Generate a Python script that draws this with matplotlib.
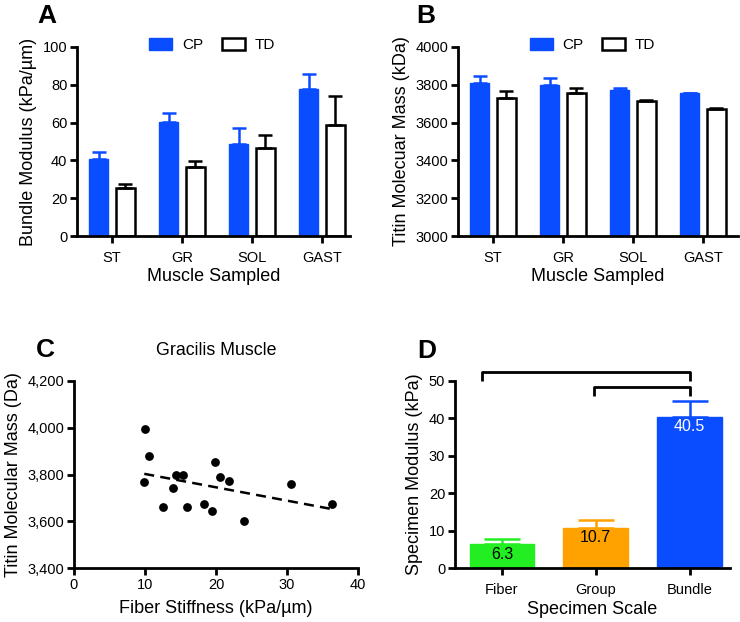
import matplotlib
matplotlib.use("Agg")
import matplotlib.pyplot as plt
import numpy as np
from matplotlib.patches import Patch

plt.rcParams['font.family'] = ['Liberation Sans', 'DejaVu Sans']

# ---- data ----
muscles = ["ST", "GR", "SOL", "GAST"]
a_cp = [41.0, 60.5, 48.5, 78.0]
a_cp_err = [3.5, 4.5, 8.5, 7.5]
a_td = [25.5, 36.5, 46.5, 58.5]
a_td_err = [2.2, 3.0, 7.0, 15.5]

b_cp = [3808, 3798, 3775, 3754]
b_cp_err = [40, 36, 6, 4]
b_td = [3729, 3759, 3712, 3673]
b_td_err = [40, 23, 10, 5]

c_x = [10.0, 10.6, 9.9, 14.3, 15.3, 14.0, 12.5, 15.9, 19.8, 20.6, 21.8, 18.3, 19.5, 24.0, 30.6, 36.4]
c_y = [3994, 3881, 3767, 3799, 3796, 3742, 3663, 3660, 3855, 3791, 3773, 3675, 3643, 3602, 3759, 3675]

scales = ["Fiber", "Group", "Bundle"]
d_vals = [6.3, 10.7, 40.5]
d_err = [1.4, 2.2, 4.1]
d_labels = ["6.3", "10.7", "40.5"]

BLUE = '#0a4cff'
GREEN = '#22ee22'
ORANGE = '#ffa200'

fig = plt.figure(figsize=(7.4, 6.22), dpi=100)
W, H = 740, 622

def add_ax(l, r, t, b):
    return fig.add_axes([l / W, 1 - b / H, (r - l) / W, (b - t) / H])

LW = 2.0
TICKFS = 10.5
LABFS = 13

def style(ax):
    for s in ['top', 'right']:
        ax.spines[s].set_visible(False)
    for s in ['left', 'bottom']:
        ax.spines[s].set_linewidth(LW)
    ax.tick_params(width=LW, length=5, labelsize=TICKFS, direction='out', pad=2)

handles = [Patch(facecolor=BLUE, edgecolor=BLUE),
           Patch(facecolor='white', edgecolor='black', linewidth=1.8)]
leg_kw = dict(ncol=2, frameon=False, fontsize=11, loc='center', handlelength=1.5,
              handleheight=0.9, columnspacing=1.2, handletextpad=0.65)

# ---- Panel A ----
axA = add_ax(77, 350, 47, 236)
style(axA)
x = np.arange(len(muscles))
bw = 0.27
off = 0.19
axA.bar(x - off, a_cp, bw, color=BLUE, edgecolor=BLUE, linewidth=1)
axA.errorbar(x - off, a_cp, yerr=[np.zeros(4), a_cp_err], fmt='none', ecolor=BLUE,
             elinewidth=1.8, capsize=5, capthick=1.8)
axA.bar(x + off, a_td, bw, color='white', edgecolor='black', linewidth=1.8)
axA.errorbar(x + off, a_td, yerr=[np.zeros(4), a_td_err], fmt='none', ecolor='black',
             elinewidth=1.8, capsize=5, capthick=1.8)
axA.set_xlim(-0.5, 3.4)
axA.set_ylim(0, 100)
axA.set_yticks([0, 20, 40, 60, 80, 100])
axA.set_xticks(x)
axA.set_xticklabels(muscles)
axA.tick_params(axis='x', pad=6)
axA.set_ylabel("Bundle Modulus (kPa/µm)", fontsize=LABFS, labelpad=4)
axA.set_xlabel("Muscle Sampled", fontsize=LABFS, labelpad=2)
axA.legend(handles, ["CP", "TD"], bbox_to_anchor=(0.495, 1.01), **leg_kw)
fig.text(37 / W, 1 - 16 / H, "A", fontsize=19, fontweight='bold', va='center', ha='left')

# ---- Panel B ----
axB = add_ax(458, 738, 47, 236)
style(axB)
axB.bar(x - off, b_cp, bw, color=BLUE, edgecolor=BLUE, linewidth=1)
axB.errorbar(x - off, b_cp, yerr=[np.zeros(4), b_cp_err], fmt='none', ecolor=BLUE,
             elinewidth=1.8, capsize=5, capthick=1.8)
axB.bar(x + off, b_td, bw, color='white', edgecolor='black', linewidth=1.8)
axB.errorbar(x + off, b_td, yerr=[np.zeros(4), b_td_err], fmt='none', ecolor='black',
             elinewidth=1.8, capsize=5, capthick=1.8)
axB.set_xlim(-0.5, 3.5)
axB.set_ylim(3000, 4000)
axB.set_yticks([3000, 3200, 3400, 3600, 3800, 4000])
axB.set_xticks(x)
axB.set_xticklabels(muscles)
axB.tick_params(axis='x', pad=6)
axB.set_ylabel("Titin Molecuar Mass (kDa)", fontsize=LABFS, labelpad=4)
axB.set_xlabel("Muscle Sampled", fontsize=LABFS, labelpad=2)
axB.legend(handles, ["CP", "TD"], bbox_to_anchor=(0.48, 1.01), **leg_kw)
fig.text(416 / W, 1 - 16 / H, "B", fontsize=19, fontweight='bold', va='center', ha='left')

# ---- Panel C ----
axC = add_ax(74, 358, 381, 568)
style(axC)
axC.scatter(c_x, c_y, s=40, color='black', zorder=3, linewidths=0)
coef = np.polyfit(c_x, c_y, 1)
fx = np.array([min(c_x), max(c_x)])
axC.plot(fx, np.polyval(coef, fx), '--', color='black', linewidth=1.8, dashes=(4, 2.5))
axC.set_xlim(0, 40)
axC.set_ylim(3400, 4200)
axC.set_xticks([0, 10, 20, 30, 40])
axC.set_yticks([3400, 3600, 3800, 4000, 4200])
axC.set_yticklabels([f"{v:,}" for v in [3400, 3600, 3800, 4000, 4200]])
axC.set_ylabel("Titin Molecular Mass (Da)", fontsize=LABFS, labelpad=4)
axC.set_xlabel("Fiber Stiffness (kPa/µm)", fontsize=LABFS, labelpad=6)
axC.set_title("Gracilis Muscle", fontsize=12.8, pad=19)
fig.text(36 / W, 1 - 350 / H, "C", fontsize=19, fontweight='bold', va='center', ha='left')

# ---- Panel D ----
axD = add_ax(455, 730, 381, 568)
style(axD)
xd = np.arange(len(scales))
colors = [GREEN, ORANGE, BLUE]
axD.bar(xd, d_vals, 0.69, color=colors, edgecolor=colors, linewidth=1)
for i in range(3):
    axD.errorbar(xd[i], d_vals[i], yerr=[[0], [d_err[i]]], fmt='none', ecolor=colors[i],
                 elinewidth=1.8, capsize=13, capthick=1.8)
    axD.text(xd[i], d_vals[i] - 0.6, d_labels[i], ha='center', va='top', fontsize=11.5,
             color='white' if i == 2 else 'black')
axD.set_xlim(-0.5, 2.43)
axD.set_ylim(0, 50)
axD.set_yticks([0, 10, 20, 30, 40, 50])
axD.set_xticks(xd)
axD.set_xticklabels(scales)
axD.tick_params(axis='x', pad=6)
axD.set_ylabel("Specimen Modulus (kPa)", fontsize=LABFS, labelpad=4)
axD.set_xlabel("Specimen Scale", fontsize=LABFS, labelpad=3)
# significance brackets
axD.plot([-0.21, -0.21, 2, 2], [50.0, 52.3, 52.3, 50.0], color='black', lw=2, clip_on=False,
         solid_capstyle='butt')
axD.plot([0.98, 0.98, 2, 2], [46.0, 48.3, 48.3, 46.0], color='black', lw=2, clip_on=False,
         solid_capstyle='butt')
fig.text(417 / W, 1 - 351 / H, "D", fontsize=19, fontweight='bold', va='center', ha='left')

fig.savefig("out.png", dpi=100)
